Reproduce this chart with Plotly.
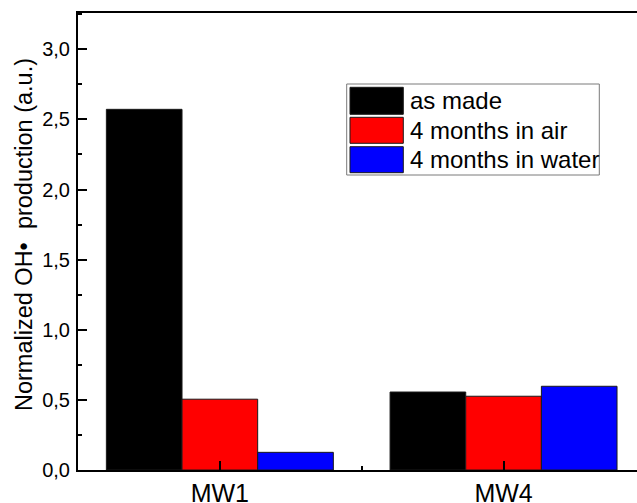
import plotly.graph_objects as go

# ---- data ----
categories = ["MW1", "MW4"]
series_names = ["as made", "4 months in air", "4 months in water"]
as_made = [2.572, 0.556]
months_air = [0.505, 0.526]
months_water = [0.126, 0.597]
series_values = [as_made, months_air, months_water]
colors = ["#000000", "#FF0000", "#0000FF"]
y_tick_vals = [0.0, 0.5, 1.0, 1.5, 2.0, 2.5, 3.0]
y_tick_text = ["0,0", "0,5", "1,0", "1,5", "2,0", "2,5", "3,0"]
y_title = "Normalized OH•  production (a.u.)"

W, H = 637, 503
ML, MR, MT, MB = 78, 0, 13, 33
PW, PH = W - ML - MR, H - MT - MB
FONT = "Liberation Sans, Arial, sans-serif"

positions = list(range(len(categories)))

fig = go.Figure()
for name, vals, col in zip(series_names, series_values, colors):
    fig.add_trace(go.Bar(
        x=positions, y=vals, name=name,
        marker=dict(color=col, line=dict(color="#1a1a1a", width=1)),
        showlegend=False,
    ))

x_end = -0.5 + PW / 283.7

def px(x):
    return (x - ML) / PW

def py(y):
    return (H - MB - y) / PH

shapes = []
annotations = []
# legend frame
shapes.append(dict(type="rect", xref="paper", yref="paper",
                   x0=px(346.7), x1=px(599.3), y0=py(175), y1=py(84),
                   line=dict(color="#7a7a7a", width=1), fillcolor="white", layer="above"))
rows = [(87.3, 114.3), (117.3, 143.3), (146.7, 172.7)]
for (t, b), name, col in zip(rows, series_names, colors):
    shapes.append(dict(type="rect", xref="paper", yref="paper",
                       x0=px(350), x1=px(403.3), y0=py(b), y1=py(t),
                       line=dict(color="#1a1a1a", width=1), fillcolor=col, layer="above"))
    annotations.append(dict(xref="paper", yref="paper", x=px(408), y=py((t + b) / 2),
                            text=name, showarrow=False, xanchor="left", yanchor="middle",
                            font=dict(family=FONT, size=24, color="black")))
# y-axis title
annotations.append(dict(xref="paper", yref="paper", x=px(24), y=py(235),
                        text=y_title, textangle=-90, showarrow=False,
                        xanchor="center", yanchor="middle",
                        font=dict(family=FONT, size=23.5, color="black")))

fig.update_layout(
    width=W, height=H,
    margin=dict(l=ML, r=MR, t=MT, b=MB, pad=0, autoexpand=False),
    paper_bgcolor="white", plot_bgcolor="white",
    barmode="group", bargap=0.2, bargroupgap=0,
    shapes=shapes, annotations=annotations,
    font=dict(family=FONT, color="black"),
    xaxis=dict(
        range=[-0.5, x_end], tickvals=positions, ticktext=categories,
        ticks="inside", ticklen=9, tickwidth=2, tickcolor="black",
        showline=True, linecolor="black", linewidth=2, mirror=True,
        showgrid=False, zeroline=False, automargin=False,
        tickfont=dict(family=FONT, size=25, color="black"),
        minor=dict(tickvals=[0.5], ticks="inside", ticklen=4, tickwidth=2, tickcolor="black"),
        ticklabelstandoff=0,
    ),
    yaxis=dict(
        range=[0, 3.259], tickvals=y_tick_vals, ticktext=y_tick_text,
        ticks="inside", ticklen=9, tickwidth=2, tickcolor="black",
        showline=True, linecolor="black", linewidth=2,
        showgrid=False, zeroline=False, automargin=False,
        tickfont=dict(family=FONT, size=20, color="black"),
        minor=dict(dtick=0.25, ticks="inside", ticklen=4, tickwidth=2, tickcolor="black"),
        ticklabelstandoff=2,
    ),
    yaxis2=dict(
        overlaying="y", side="right", anchor="x", range=[0, 3.259],
        tickvals=y_tick_vals, showticklabels=False, automargin=False,
        ticks="inside", ticklen=3, tickwidth=2, tickcolor="black",
        showline=False, showgrid=False, zeroline=False,
    ),
)

fig.write_html("out.html", config={"displayModeBar": False},
               post_script="document.body.style.margin='0';document.body.style.padding='0';")
